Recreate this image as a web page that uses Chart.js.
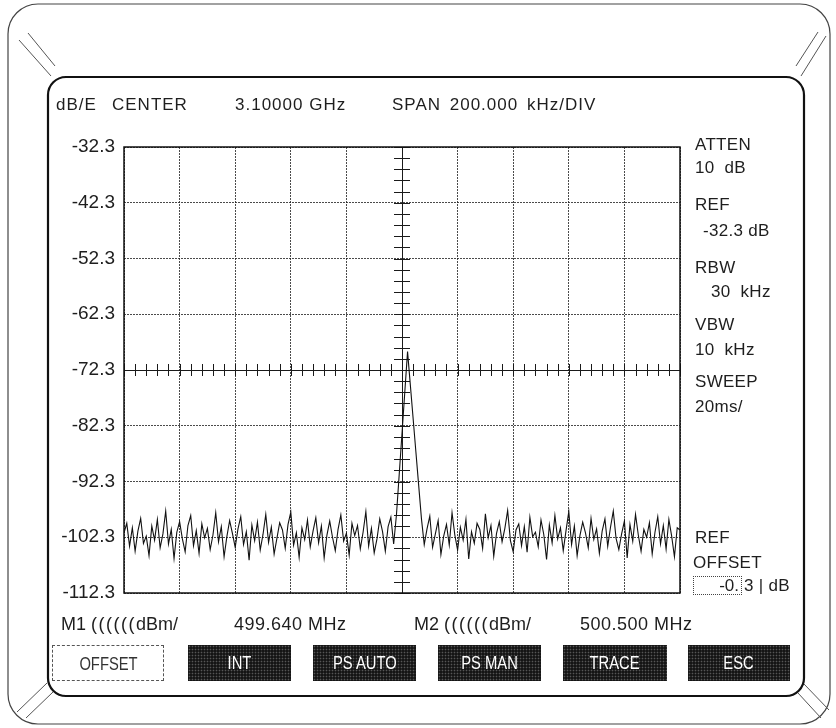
<!DOCTYPE html>
<html><head><meta charset="utf-8">
<script src="https://cdn.jsdelivr.net/npm/chart.js@4.4.1/dist/chart.umd.min.js"></script>
<style>
html,body{margin:0;padding:0;background:#fff;}
#wrap{position:relative;width:836px;height:728px;overflow:hidden;font-family:"Liberation Sans",Arial,sans-serif;color:#1e1e1e;}
#deco,#c{position:absolute;left:0;top:0;}
.t{position:absolute;font-size:17px;line-height:18px;white-space:pre;letter-spacing:0.3px;}
.h{position:absolute;top:95px;font-size:17px;line-height:20px;white-space:pre;letter-spacing:1px;}
.m{position:absolute;top:614px;font-size:18px;line-height:20px;white-space:pre;}
.btn{position:absolute;top:645px;height:36px;box-sizing:border-box;text-align:center;line-height:36px;font-family:"Liberation Sans Narrow","Liberation Sans",Arial,sans-serif;font-size:18px;}
.dark{background-color:#151515;background-image:radial-gradient(circle,rgba(255,255,255,0.28) 0.7px,transparent 1.1px);background-size:3px 3px;color:#fff;}
.light{background:#fff;border:1px dashed #555;color:#333;}
.btn span{display:inline-block;transform:scaleX(0.82);}
#offbox{position:absolute;left:693px;top:576px;width:49px;height:19px;box-sizing:border-box;border:1px dotted #444;text-align:right;font-size:17px;line-height:17px;padding-right:2px;}
</style></head>
<body><div id="wrap">
<svg id="deco" width="836" height="728">
  <rect x="8" y="4" width="822" height="720" rx="30" ry="30" fill="none" stroke="#444" stroke-width="1.2"/>
  <rect x="48" y="77" width="756" height="619" rx="18" ry="18" fill="none" stroke="#111" stroke-width="2.2"/>
  <line x1="19" y1="40" x2="51" y2="76" stroke="#555" stroke-width="1"/>
  <line x1="28" y1="33" x2="55" y2="66" stroke="#555" stroke-width="1"/>
  <line x1="826" y1="36" x2="801" y2="76" stroke="#555" stroke-width="1"/>
  <line x1="818" y1="32" x2="796" y2="66" stroke="#555" stroke-width="1"/>
  <line x1="17" y1="712" x2="47" y2="683" stroke="#555" stroke-width="1"/>
  <line x1="26" y1="718" x2="53" y2="692" stroke="#555" stroke-width="1"/>
  <line x1="804" y1="684" x2="829" y2="710" stroke="#555" stroke-width="1"/>
  <line x1="798" y1="693" x2="821" y2="718" stroke="#555" stroke-width="1"/>
</svg>
<canvas id="c" width="836" height="728"></canvas>

<div class="h" style="left:56px">dB/E</div>
<div class="h" style="left:112px">CENTER</div>
<div class="h" style="left:235px">3.10000 GHz</div>
<div class="h" style="left:392px;word-spacing:3px">SPAN 200.000 kHz/DIV</div>

<div class="t" style="left:695px;top:136px">ATTEN</div>
<div class="t" style="left:695px;top:159px">10  dB</div>
<div class="t" style="left:695px;top:196px">REF</div>
<div class="t" style="left:703px;top:222px">-32.3 dB</div>
<div class="t" style="left:695px;top:259px">RBW</div>
<div class="t" style="left:711px;top:283px">30  kHz</div>
<div class="t" style="left:695px;top:316px">VBW</div>
<div class="t" style="left:695px;top:341px">10  kHz</div>
<div class="t" style="left:695px;top:373px">SWEEP</div>
<div class="t" style="left:695px;top:398px">20ms/</div>
<div class="t" style="left:695px;top:529px">REF</div>
<div class="t" style="left:693px;top:554px">OFFSET</div>
<div id="offbox">-0.</div>
<div class="t" style="left:744px;top:577px">3 | dB</div>

<div class="m" style="left:61px">M1 <span style="letter-spacing:1.5px">((((((</span>dBm/</div>
<div class="m" style="left:234px;letter-spacing:0.5px">499.640 MHz</div>
<div class="m" style="left:414px">M2 <span style="letter-spacing:1.5px">((((((</span>dBm/</div>
<div class="m" style="left:580px;letter-spacing:0.5px">500.500 MHz</div>

<div class="btn light" style="left:52px;width:112px"><span>OFFSET</span></div>
<div class="btn dark" style="left:188px;width:103px"><span>INT</span></div>
<div class="btn dark" style="left:313px;width:103px"><span>PS AUTO</span></div>
<div class="btn dark" style="left:438px;width:103px"><span>PS MAN</span></div>
<div class="btn dark" style="left:563px;width:104px"><span>TRACE</span></div>
<div class="btn dark" style="left:688px;width:102px"><span>ESC</span></div>
</div>
<script>
const yTickLabels = [-32.3, -42.3, -52.3, -62.3, -72.3, -82.3, -92.3, -102.3, -112.3];
const xGridKHz = [-1000, -800, -600, -400, -200, 0, 200, 400, 600, 800, 1000];
const sweepStartKHz = -1000;
const sweepStepKHz = 10;
const crossLevel = -72.3;
const centerKHz = 0;
const traceLevels = [
-101.5,-99.8,-103.9,-100.6,-104.8,-101.2,-98.9,-103.4,-102.1,-105.6,
-100.3,-102.8,-99.1,-104.2,-101.7,-97.6,-103.5,-100.9,-106.1,-101.4,
-99.5,-102.6,-104.9,-100.2,-98.4,-103.8,-101.1,-105.2,-99.9,-102.4,
-100.7,-104.5,-101.9,-97.9,-103.1,-100.4,-105.8,-102.2,-99.3,-101.6,
-104.1,-100.8,-98.6,-103.6,-101.3,-106.4,-100.1,-102.9,-99.6,-104.6,
-101.8,-98.2,-103.2,-100.5,-105.3,-102.5,-99.7,-101.0,-104.3,-100.0,
-97.8,-103.7,-101.5,-105.9,-100.6,-102.7,-99.2,-104.0,-101.2,-98.8,
-103.3,-100.3,-106.0,-101.9,-99.4,-102.3,-104.7,-100.9,-98.3,-103.0,
-101.6,-105.5,-99.8,-102.0,-100.2,-104.4,-101.4,-97.7,-103.9,-100.7,
-105.1,-102.6,-99.0,-101.3,-104.8,-100.4,-98.7,-103.5,
-98.3,-91.0,-83.7,-76.3,-69.0,-75.0,-81.0,-87.0,-93.0,-99.0,-103.6,
-100.8,-98.5,-104.1,-101.7,-99.3,-105.4,-102.1,-100.0,-103.7,-97.9,
-101.9,-104.6,-100.5,-102.8,-99.1,-106.2,-101.3,-103.4,-99.8,-100.9,
-104.3,-98.1,-102.4,-100.2,-105.7,-101.6,-99.5,-103.1,-100.7,-97.5,
-102.9,-104.9,-101.0,-99.9,-103.8,-100.4,-105.0,-98.7,-102.2,-101.4,
-104.0,-99.2,-101.8,-106.3,-100.1,-103.3,-98.4,-102.6,-100.6,-104.7,
-101.1,-97.7,-103.6,-100.3,-105.6,-102.0,-99.6,-101.5,-104.2,-98.9,
-102.7,-100.8,-105.2,-101.2,-99.0,-103.9,-100.5,-97.6,-102.5,-104.5,
-101.7,-99.4,-106.0,-100.0,-103.0,-98.2,-101.9,-104.8,-100.9,-102.3,
-99.7,-105.3,-101.4,-98.6,-103.5,-100.2,-104.4,-99.1,-102.1,-105.8,
-100.6,-101.0
];
const minorXStepKHz = 40;
const minorYStepDb = 2;

const tracePoints = traceLevels.map((v, i) => ({x: sweepStartKHz + i * sweepStepKHz, y: v}));

const crossPlugin = {
  id: 'cross',
  beforeDatasetsDraw(chart) {
    const {ctx, chartArea: a, scales: {x, y}} = chart;
    const cx = x.getPixelForValue(centerKHz), cy = y.getPixelForValue(crossLevel);
    ctx.save();
    ctx.strokeStyle = '#1a1a1a';
    ctx.lineWidth = 1;
    const seg = (x1, y1, x2, y2) => { ctx.beginPath(); ctx.moveTo(x1, y1); ctx.lineTo(x2, y2); ctx.stroke(); };
    seg(Math.round(cx)+0.5, a.top, Math.round(cx)+0.5, a.bottom);
    seg(a.left, Math.round(cy)+0.5, a.right, Math.round(cy)+0.5);
    for (let v = x.min; v <= x.max; v += minorXStepKHz) {
      const px = Math.round(x.getPixelForValue(v)) + 0.5;
      seg(px, cy - 6, px, cy + 6);
    }
    for (let v = y.min; v <= y.max + 1e-6; v += minorYStepDb) {
      const py = Math.round(y.getPixelForValue(v)) + 0.5;
      seg(cx - 8, py, cx + 8, py);
    }
    ctx.restore();
  },
  afterDraw(chart) {
    const {ctx, chartArea: a} = chart;
    ctx.save();
    ctx.strokeStyle = '#111';
    ctx.lineWidth = 1.5;
    ctx.strokeRect(a.left, a.top, a.right - a.left, a.bottom - a.top);
    ctx.restore();
  }
};

new Chart(document.getElementById('c'), {
  type: 'line',
  data: {
    datasets: [{
      data: tracePoints,
      borderColor: '#111',
      borderWidth: 1.1,
      pointRadius: 0,
      tension: 0,
      fill: false
    }]
  },
  options: {
    responsive: false,
    animation: false,
    events: [],
    layout: {padding: {left: 0, top: 147, right: 156, bottom: 135}},
    plugins: {legend: {display: false}, tooltip: {enabled: false}},
    scales: {
      x: {
        type: 'linear',
        min: xGridKHz[0],
        max: xGridKHz[xGridKHz.length - 1],
        afterBuildTicks: (s) => { s.ticks = xGridKHz.map(v => ({value: v})); },
        afterFit: (s) => { s.height = 0; },
        ticks: {display: false},
        grid: {color: 'rgba(30,30,30,0.8)', lineWidth: 1, drawTicks: false},
        border: {display: false, dash: [2, 1]}
      },
      y: {
        type: 'linear',
        min: yTickLabels[yTickLabels.length - 1],
        max: yTickLabels[0],
        afterBuildTicks: (s) => { s.ticks = yTickLabels.map(v => ({value: v})); },
        afterFit: (s) => { s.width = 124; },
        ticks: {
          padding: 9,
          color: '#1e1e1e',
          font: {family: '"Liberation Sans", Arial, sans-serif', size: 19},
          callback: (v) => Number(v).toFixed(1)
        },
        grid: {color: 'rgba(30,30,30,0.8)', lineWidth: 1, drawTicks: false},
        border: {display: false, dash: [2, 1]}
      }
    }
  },
  plugins: [crossPlugin]
});
</script>
</body></html>
